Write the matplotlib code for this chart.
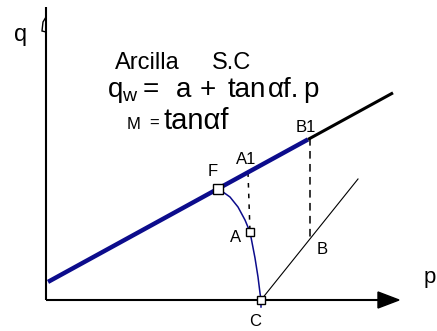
import numpy as np
import matplotlib
matplotlib.use("Agg")
import matplotlib.pyplot as plt
from matplotlib.patches import Polygon

plt.rcParams['font.family'] = ['Liberation Sans', 'DejaVu Sans']
plt.rcParams['mathtext.fontset'] = 'custom'
plt.rcParams['mathtext.rm'] = 'Liberation Sans'
plt.rcParams['mathtext.it'] = 'Liberation Sans:italic'

# recta de falla q = a + tan(alpha f) * p
a = 17.0
m = 0.548
p_line_blue = np.array([2.0, 262.0])
p_line_black = np.array([262.0, 347.0])

# puntos
p_F = 172.0
p_A1 = 202.0
p_B1 = 264.0
A = (204.0, 68.0)
B = (264.0, 62.0)
C = (215.0, 0.0)

# linea fina desde C
p_CB = [215.0, 312.0]
q_CB = [0.0, 121.0]

# trayectoria C -> A -> F (azul fina)
p_path = [172, 177, 184, 192, 199, 204, 209, 212, 214, 215, 215]
q_path = [110, 108, 103, 93, 80, 68, 42, 23, 7, 0, -7]

blue = '#0c0c8c'

fig = plt.figure(figsize=(4.37, 3.31), dpi=100)
ax = fig.add_axes([0, 0, 1, 1])
ax.set_xlim(-46, 391)
ax.set_ylim(-31, 300)
ax.axis('off')

# ejes
ax.plot([0, 0], [0, 293], color='black', lw=1.5, solid_capstyle='butt')
ax.plot([0, 332], [0, 0], color='black', lw=1.5, solid_capstyle='butt')
ax.add_patch(Polygon([[332, 8], [332, -8], [353, 0]], closed=True,
                     facecolor='black', edgecolor='black'))
ax.add_patch(Polygon([[0, 283], [-3, 278], [-4, 269], [0, 268]], closed=False,
                     fill=False, edgecolor='black', lw=1.0))

# recta
ax.plot(p_line_blue, a + m * p_line_blue, color=blue, lw=3.2, solid_capstyle='butt', zorder=3)
ax.plot(p_line_black, a + m * p_line_black, color='black', lw=2.2, solid_capstyle='butt', zorder=3)

# trayectorias
ax.plot(p_path, q_path, color=blue, lw=1.1, zorder=2)
ax.plot(p_CB, q_CB, color='black', lw=0.8, zorder=2)
ax.plot([p_A1, A[0]], [a + m * p_A1, A[1]], color='black', lw=1.1,
        dashes=(3, 4), zorder=2)
ax.plot([p_B1, B[0]], [a + m * p_B1, B[1]], color='black', lw=1.1,
        dashes=(5, 3.5), zorder=2)

# marcadores
ax.plot([p_F], [a + m * p_F], 's', ms=7, mfc='white', mec='black', mew=1.0, zorder=5)
ax.plot([A[0]], [A[1]], 's', ms=6, mfc='white', mec='black', mew=1.0, zorder=5)
ax.plot([C[0]], [C[1]], 's', ms=6, mfc='white', mec='black', mew=1.0, zorder=5)

# etiquetas
lab = dict(fontsize=12, ha='center', va='center')
ax.text(167, 129, 'F', **lab)
ax.text(200, 140, 'A1', **lab)
ax.text(260, 172, 'B1', **lab)
ax.text(190, 62, 'A', **lab)
ax.text(276, 51, 'B', **lab)
ax.text(209, -21, 'C', **lab)
ax.text(-25, 259, 'q', fontsize=17, ha='center', va='baseline')
ax.text(378, 17, 'p', fontsize=16, ha='left', va='baseline')

# texto: Arcilla S.C
ax.text(69, 231, 'Arcilla', fontsize=17, ha='left', va='baseline')
ax.text(166, 231, 'S.C', fontsize=17, ha='left', va='baseline')

# texto: qw = a + tan(alpha f).p
t2 = dict(fontsize=20, ha='left', va='baseline')
ax.text(61, 203, r'q$_{\rm w}$', **t2)
ax.text(97, 203, '=', **t2)
ax.text(130, 203, 'a', **t2)
ax.text(154, 203, '+', **t2)
ax.text(182, 203, 'tan', **t2)
ax.text(222, 203, 'αf.', **t2)
ax.text(257, 203, 'p', **t2)

# texto: M = tan(alpha f)
ax.text(81, 171, 'M', fontsize=12, ha='left', va='baseline')
ax.text(103, 172, '=', fontsize=12, ha='left', va='baseline')
ax.text(118, 171, 'tanαf', fontsize=21, ha='left', va='baseline')

fig.savefig('out.png', dpi=100)
